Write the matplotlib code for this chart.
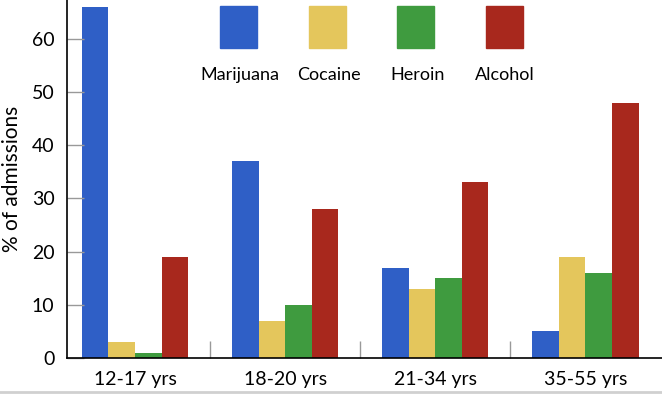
import matplotlib.pyplot as plt
from matplotlib.patches import Rectangle
from matplotlib.lines import Line2D
import numpy as np

# dados
grupos = ["12-17 yrs", "18-20 yrs", "21-34 yrs", "35-55 yrs"]
drogas = ["Marijuana", "Cocaine", "Heroin", "Alcohol"]
marijuana = [66, 37, 17, 5]
cocaine = [3, 7, 13, 19]
heroin = [1, 10, 15, 16]
alcohol = [19, 28, 33, 48]
cores = ["#2f5fc6", "#e4c65c", "#3f9b3f", "#a8281d"]

plt.rcParams['font.family'] = ['Lato', 'DejaVu Sans']

fig = plt.figure(figsize=(6.62, 3.94), dpi=100)
ax = fig.add_axes([67 / 662, 36 / 394, 1 - 67 / 662, 1 - 36 / 394])

x = np.arange(len(grupos))
largura = 0.177
series = [marijuana, cocaine, heroin, alcohol]
for i, (vals, cor) in enumerate(zip(series, cores)):
    ax.bar(x + (i - 1.5) * largura, vals, largura, color=cor)

ax.set_xlim(-0.453, 3.51)
ax.set_ylim(0, 67.3)
ax.set_yticks(range(0, 61, 10))
ax.set_xticks(x)
ax.set_xticklabels(grupos)
ax.set_xticks([0.5, 1.5, 2.5], minor=True)
ax.tick_params(axis='y', direction='in', length=12, color='#999999', width=1,
               labelsize=14, pad=9)
ax.tick_params(axis='x', which='major', length=0, labelsize=14, pad=9)
ax.tick_params(axis='x', which='minor', direction='in', length=12,
               color='#999999', width=1)
ax.set_ylabel("% of admissions", fontsize=15, labelpad=7)
for s in ['top', 'right']:
    ax.spines[s].set_visible(False)
for s in ['left', 'bottom']:
    ax.spines[s].set_linewidth(1.2)

# legenda com quadrados grandes
centros_quad = [239, 327, 415, 504]
centros_txt = [240, 329, 418, 505]
for nome, cor, cq, ct in zip(drogas, cores, centros_quad, centros_txt):
    fig.patches.append(Rectangle(((cq - 18.5) / 662, 1 - 48 / 394), 37 / 662, 42 / 394,
                                 color=cor, transform=fig.transFigure))
    fig.text(ct / 662, 1 - 75 / 394, nome, ha='center', va='center', fontsize=13)

# borda cinza no rodapé
fig.add_artist(Line2D([0, 1], [2 / 394, 2 / 394], color='#d0d0d0', lw=2,
                      transform=fig.transFigure))

fig.savefig("out.png", dpi=100)
